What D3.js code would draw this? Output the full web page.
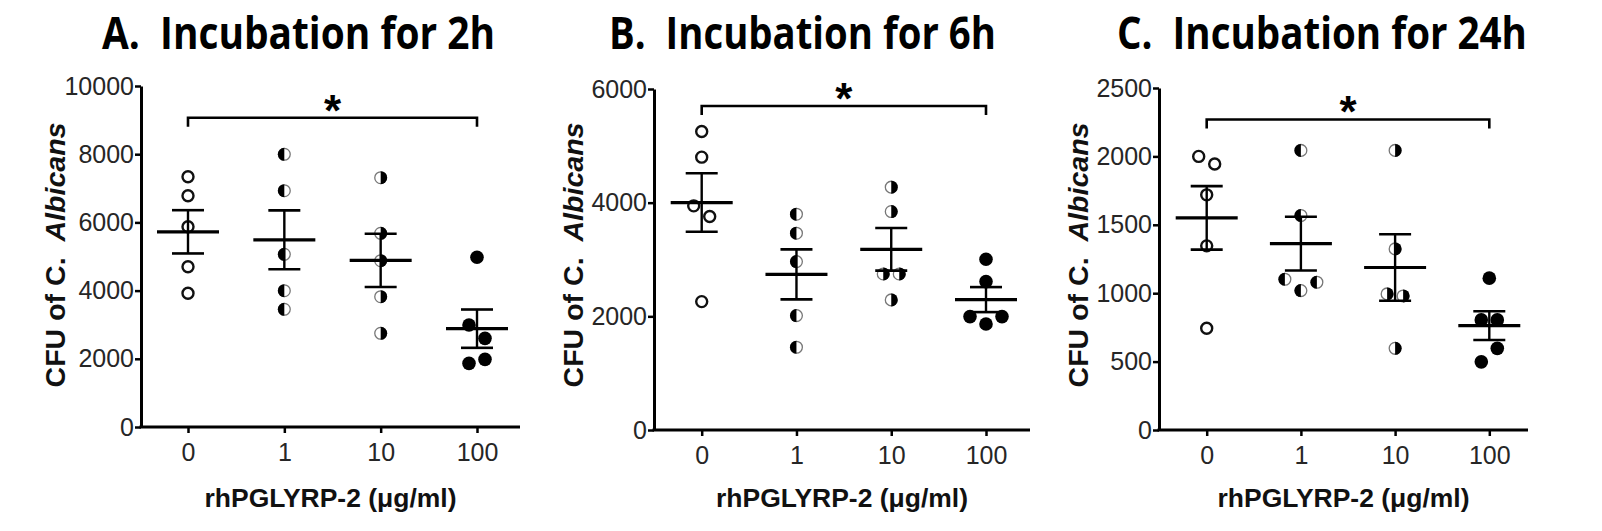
<!DOCTYPE html>
<html><head><meta charset="utf-8">
<script src="https://cdn.jsdelivr.net/npm/d3@7"></script>
<style>body{margin:0;background:#fff} svg{display:block}</style>
</head><body><svg id="chart" width="1602" height="531"></svg>
<script>
// ---- data ----
const doses = ["0", "1", "10", "100"];
const titles = ["A.  Incubation for 2h", "B.  Incubation for 6h", "C.  Incubation for 24h"];
const yMax = [10000, 6000, 2500];
const yTicks2h = [0, 2000, 4000, 6000, 8000, 10000];
const yTicks6h = [0, 2000, 4000, 6000];
const yTicks24h = [0, 500, 1000, 1500, 2000, 2500];
// CFU per dose group (5 replicates each)
const cfu2h = [
  [7340, 6783, 5874, 4701, 3921],
  [7997, 6930, 5064, 3997, 3452],
  [7311, 5680, 4877, 3821, 2748],
  [4977, 2991, 2600, 1867, 1984]
];
const cfu6h = [
  [5252, 4801, 3944, 3756, 2259],
  [3797, 3463, 2963, 2013, 1456],
  [4273, 3844, 2746, 2746, 2289],
  [3005, 2611, 1995, 1866, 1995]
];
const cfu24h = [
  [2000, 1944, 1719, 1346, 744],
  [2044, 1568, 1102, 1019, 1080],
  [2044, 1324, 995, 980, 597],
  [1110, 805, 805, 498, 597]
];
const sigBracket = [9070, 5700, 2270];
const sigLabel = "*";
const xLabel = "rhPGLYRP-2 (\u03BCg/ml)";
const yLabelPlain = "CFU of C.  ";
const yLabelItalic = "Albicans";

const panelsData = [cfu2h, cfu6h, cfu24h];
const panelTicks = [yTicks2h, yTicks6h, yTicks24h];

// ---- layout ----
const layout = [
  {axL: 141, axR: 520, y0: 427, yT: 86, c0: 188, c3: 477, yLabX: 65, tX0: 102, tX1: 495},
  {axL: 654, axR: 1030, y0: 430, yT: 89, c0: 701.7, c3: 986, yLabX: 583, tX0: 609, tX1: 996},
  {axL: 1159, axR: 1528, y0: 430, yT: 88, c0: 1206.7, c3: 1489.3, yLabX: 1088, tX0: 1117, tX1: 1527}
];
const ARIAL = "'Liberation Sans', Arial, sans-serif";
const TITLEFONT = "'Open Sans', Lato, sans-serif";

const svg = d3.select("#chart");
svg.append("rect").attr("width", 1602).attr("height", 531).attr("fill", "#fff");

function swarm(values, y, thresh, spacing) {
  const idx = values.map((v, i) => i).sort((a, b) => values[b] - values[a]);
  const rows = [];
  idx.forEach(i => {
    const last = rows[rows.length - 1];
    if (last && Math.abs(y(values[last[0]]) - y(values[i])) < thresh) last.push(i);
    else rows.push([i]);
  });
  const off = new Array(values.length).fill(0);
  rows.forEach(r => { r.sort((a, b) => a - b); r.forEach((i, k) => off[i] = (k - (r.length - 1) / 2) * spacing); });
  return off;
}

function drawMarker(g, type, r) {
  if (type === 0) {
    g.append("circle").attr("r", r - 1).attr("fill", "#fff").attr("stroke", "#111").attr("stroke-width", 2.4);
  } else if (type === 3) {
    g.append("circle").attr("r", r + 0.3).attr("fill", "#000");
  } else {
    g.append("circle").attr("r", r - 0.6).attr("fill", "#fff").attr("stroke", "#777").attr("stroke-width", 1.3);
    const sweep = type === 1 ? 0 : 1;
    g.append("path")
      .attr("d", `M0,${-r} A${r},${r} 0 0,${sweep} 0,${r} Z`)
      .attr("fill", "#000");
  }
}

panelsData.forEach((data, p) => {
  const L = layout[p];
  const y = d3.scaleLinear().domain([0, yMax[p]]).range([L.y0, L.yT]);
  const x = d3.scalePoint().domain(doses).range([L.c0, L.c3]);
  const g = svg.append("g");

  // title
  const t = g.append("text")
    .attr("xml:space", "preserve").style("white-space", "pre")
    .attr("font-family", TITLEFONT).attr("font-weight", 700).attr("font-size", 44)
    .attr("fill", "#000").text(titles[p]);
  const tw = t.node().getComputedTextLength();
  t.attr("transform", `translate(${L.tX0},49) scale(${(L.tX1 - L.tX0) / tw},1)`);

  // y axis
  const ya = g.append("g").attr("transform", `translate(${L.axL},0)`)
    .call(d3.axisLeft(y).tickValues(panelTicks[p]).tickSize(6).tickSizeOuter(0).tickPadding(1).tickFormat(d3.format("d")));
  ya.select(".domain").attr("stroke", "#000").attr("stroke-width", 3);
  ya.selectAll(".tick line").attr("stroke", "#000").attr("stroke-width", 2.5);
  ya.selectAll(".tick text").attr("font-family", ARIAL).attr("font-size", 25).attr("fill", "#262626");
  ya.attr("font-family", null).attr("font-size", null);

  // x axis
  g.append("line").attr("x1", L.axL - 1.5).attr("x2", L.axR).attr("y1", L.y0).attr("y2", L.y0)
    .attr("stroke", "#000").attr("stroke-width", 3);
  const xa = g.append("g").attr("transform", `translate(0,${L.y0})`)
    .call(d3.axisBottom(x).tickSize(6).tickSizeOuter(0).tickPadding(10));
  xa.select(".domain").remove();
  xa.selectAll(".tick line").attr("stroke", "#000").attr("stroke-width", 2.5);
  xa.selectAll(".tick text").attr("font-family", ARIAL).attr("font-size", 25).attr("fill", "#262626");
  xa.attr("font-family", null).attr("font-size", null);

  // axis labels
  const xl = g.append("text").attr("text-anchor", "middle")
    .attr("font-family", ARIAL).attr("font-weight", 700).attr("font-size", 25).attr("fill", "#111")
    .text(xLabel);
  const xw = xl.node().getComputedTextLength();
  xl.attr("transform", `translate(${(L.axL + L.axR) / 2},507) scale(${252 / xw},1)`);

  const yl = g.append("text").attr("text-anchor", "middle")
    .attr("xml:space", "preserve").style("white-space", "pre")
    .attr("font-family", ARIAL).attr("font-weight", 700).attr("font-size", 27).attr("fill", "#111");
  yl.append("tspan").text(yLabelPlain);
  yl.append("tspan").attr("font-style", "italic").text(yLabelItalic);
  const yw = yl.node().getComputedTextLength();
  yl.attr("transform", `translate(${L.yLabX},255) rotate(-90) scale(${265 / yw},1)`);

  // points
  data.forEach((vals, k) => {
    const off = swarm(vals, y, 15, 16);
    vals.forEach((v, i) => {
      const mg = g.append("g").attr("transform", `translate(${x(doses[k]) + off[i]},${y(v)})`);
      drawMarker(mg, k, 6.5);
    });
  });

  // mean +- SEM
  data.forEach((vals, k) => {
    const m = d3.mean(vals);
    const sem = d3.deviation(vals) / Math.sqrt(vals.length);
    const cx = x(doses[k]);
    g.append("line").attr("x1", cx).attr("x2", cx).attr("y1", y(m - sem)).attr("y2", y(m + sem))
      .attr("stroke", "#000").attr("stroke-width", 2.4);
    [m - sem, m + sem].forEach(v => g.append("line").attr("x1", cx - 16).attr("x2", cx + 16)
      .attr("y1", y(v)).attr("y2", y(v)).attr("stroke", "#000").attr("stroke-width", 2.6));
    g.append("line").attr("x1", cx - 31).attr("x2", cx + 31).attr("y1", y(m)).attr("y2", y(m))
      .attr("stroke", "#000").attr("stroke-width", 3.2);
  });

  // significance bracket
  const by = y(sigBracket[p]);
  const xa0 = x(doses[0]), xa3 = x(doses[3]);
  g.append("path").attr("d", `M${xa0},${by + 9}V${by}H${xa3}V${by + 9}`)
    .attr("fill", "none").attr("stroke", "#000").attr("stroke-width", 2.6);
  g.append("text").attr("text-anchor", "middle").attr("x", (xa0 + xa3) / 2).attr("y", by + 8)
    .attr("font-family", ARIAL).attr("font-weight", 700).attr("font-size", 44).attr("fill", "#000")
    .text(sigLabel);
});
</script></body></html>
